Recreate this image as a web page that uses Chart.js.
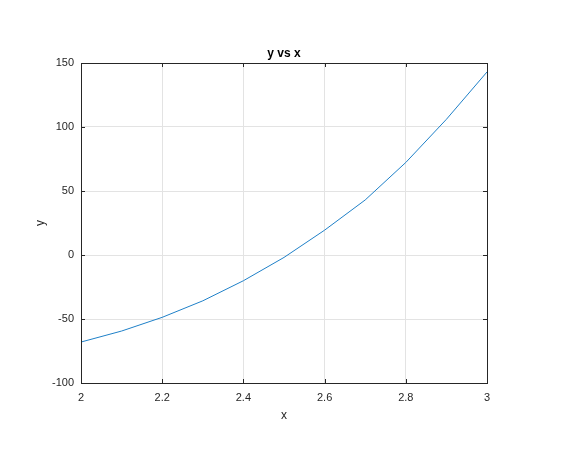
<!DOCTYPE html>
<html>
<head>
<meta charset="utf-8">
<script src="https://cdn.jsdelivr.net/npm/chart.js@4/dist/chart.umd.min.js"></script>
<style>
  html, body { margin: 0; padding: 0; background: #fff; }
  #wrap { width: 572px; height: 460px; }
</style>
</head>
<body>
<div id="wrap"><canvas id="plot"></canvas></div>
<script>
// ===== DATA =====
const xValues = [2, 2.1, 2.2, 2.3, 2.4, 2.5, 2.6, 2.7, 2.8, 2.9, 3];
const yValues = [-68, -59.4, -48.7, -35.8, -20.1, -1.9, 19.4, 43, 72.3, 106, 143];
const xTickLabels = ["2", "2.2", "2.4", "2.6", "2.8", "3"];
const yTickLabels = ["-100", "-50", "0", "50", "100", "150"];

const FONT = "'Liberation Sans', Arial, Helvetica, sans-serif";
const AXIS_COLOR = "#262626";

// box round the axes + inward tick marks + title and axis labels
const matlabAxes = {
  id: "matlabAxes",
  afterDraw(chart) {
    const { ctx, chartArea: a, scales } = chart;
    ctx.save();
    ctx.strokeStyle = AXIS_COLOR;
    ctx.lineWidth = 1;
    ctx.strokeRect(Math.round(a.left) + 0.5, Math.round(a.top) + 0.5,
      Math.round(a.right - a.left), Math.round(a.bottom - a.top));

    const tl = 4;
    ctx.beginPath();
    scales.x.ticks.forEach(t => {
      const px = Math.round(scales.x.getPixelForValue(t.value)) + 0.5;
      ctx.moveTo(px, a.bottom); ctx.lineTo(px, a.bottom - tl);
      ctx.moveTo(px, a.top); ctx.lineTo(px, a.top + tl);
    });
    scales.y.ticks.forEach(t => {
      const py = Math.round(scales.y.getPixelForValue(t.value)) + 0.5;
      ctx.moveTo(a.left, py); ctx.lineTo(a.left + tl, py);
      ctx.moveTo(a.right, py); ctx.lineTo(a.right - tl, py);
    });
    ctx.stroke();

    ctx.fillStyle = AXIS_COLOR;
    ctx.textAlign = "center";
    ctx.textBaseline = "middle";
    const cx = (a.left + a.right) / 2;
    ctx.font = "bold 12px " + FONT;
    ctx.fillStyle = "#000";
    ctx.fillText("y vs x", cx, a.top - 9);
    ctx.fillStyle = AXIS_COLOR;
    ctx.font = "12px " + FONT;
    ctx.fillText("x", cx, a.bottom + 33);
    ctx.save();
    ctx.translate(a.left - 40, (a.top + a.bottom) / 2);
    ctx.rotate(-Math.PI / 2);
    ctx.fillText("y", 0, 0);
    ctx.restore();
    ctx.restore();
  }
};

new Chart(document.getElementById("plot"), {
  type: "scatter",
  data: {
    datasets: [{
      data: xValues.map((x, i) => ({ x: x, y: yValues[i] })),
      showLine: true,
      borderColor: "#1f80c8",
      borderWidth: 1,
      pointRadius: 0,
      tension: 0,
      fill: false
    }]
  },
  options: {
    responsive: true,
    maintainAspectRatio: false,
    animation: false,
    devicePixelRatio: 1,
    layout: { padding: { top: 63, right: 85, left: 0, bottom: 0 } },
    plugins: { legend: { display: false }, tooltip: { enabled: false } },
    scales: {
      x: {
        type: "linear",
        min: 2, max: 3,
        afterFit: s => { s.height = 77; },
        ticks: {
          stepSize: 0.2,
          padding: 8,
          color: AXIS_COLOR,
          font: { family: FONT, size: 11 },
          maxRotation: 0,
          callback: (v, i) => xTickLabels[i]
        },
        grid: { color: "#e3e3e3", drawTicks: false },
        border: { display: false }
      },
      y: {
        min: -100, max: 150,
        afterFit: s => { s.width = 81; },
        ticks: {
          stepSize: 50,
          padding: 7,
          color: AXIS_COLOR,
          font: { family: FONT, size: 11 },
          callback: (v, i) => yTickLabels[i]
        },
        grid: { color: "#e3e3e3", drawTicks: false },
        border: { display: false }
      }
    }
  },
  plugins: [matlabAxes]
});
</script>
</body>
</html>
